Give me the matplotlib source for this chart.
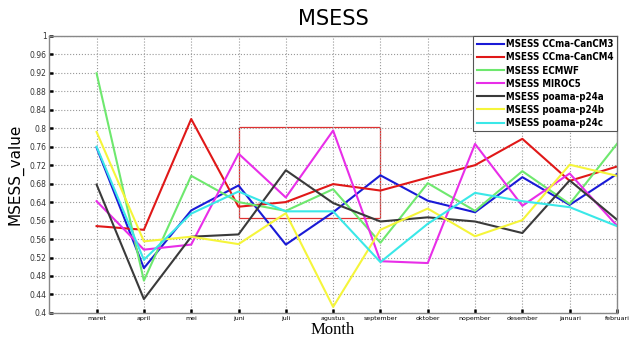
import numpy as np
import matplotlib.pyplot as plt
from matplotlib.patches import Rectangle

months = ["maret", "april", "mei", "juni", "juli", "agustus", "september",
          "oktober", "nopember", "desember", "januari", "februari"]

canCM3 = [0.758, 0.497, 0.622, 0.676, 0.548, 0.618, 0.698, 0.643, 0.618, 0.694, 0.634, 0.701]
canCM4 = [0.588, 0.580, 0.820, 0.630, 0.640, 0.679, 0.665, 0.693, 0.720, 0.777, 0.686, 0.717]
ecmwf = [0.919, 0.470, 0.697, 0.640, 0.621, 0.668, 0.552, 0.681, 0.621, 0.707, 0.636, 0.766]
miroc5 = [0.642, 0.537, 0.548, 0.745, 0.650, 0.795, 0.512, 0.508, 0.766, 0.632, 0.702, 0.589]
p24a = [0.678, 0.430, 0.565, 0.570, 0.709, 0.638, 0.598, 0.607, 0.598, 0.573, 0.687, 0.602]
p24b = [0.792, 0.555, 0.565, 0.549, 0.616, 0.413, 0.580, 0.626, 0.566, 0.601, 0.721, 0.697]
p24c = [0.760, 0.515, 0.615, 0.663, 0.620, 0.620, 0.510, 0.593, 0.660, 0.642, 0.629, 0.588]

ytick_vals = [0.4, 0.44, 0.48, 0.52, 0.56, 0.60, 0.64, 0.68, 0.72, 0.76, 0.8,
              0.84, 0.88, 0.92, 0.96, 1.0]
ytick_labels = ["0.4", "0.44", "0.48", "0.52", "0.56", "0.56", "0.64", "0.68",
                "0.72", "0.76", "0.8", "0.84", "0.88", "0.92", "0.96", "1"]

series = [
    ("MSESS CCma-CanCM3", canCM3, "#1a1ad6"),
    ("MSESS CCma-CanCM4", canCM4, "#e01818"),
    ("MSESS ECMWF", ecmwf, "#6ee86e"),
    ("MSESS MIROC5", miroc5, "#e82ee8"),
    ("MSESS poama-p24a", p24a, "#3a3a3a"),
    ("MSESS poama-p24b", p24b, "#f5f53a"),
    ("MSESS poama-p24c", p24c, "#3ae8e8"),
]

fig = plt.figure(figsize=(6.4, 3.45), dpi=100)
ax = fig.add_axes([0.077, 0.093, 0.887, 0.803])
x = np.arange(len(months))

for label, vals, col in series:
    ax.plot(x, vals, color=col, lw=1.5, label=label)

# highlight box (juni - september)
ax.add_patch(Rectangle((3, 0.606), 3, 0.196, fill=False, edgecolor="#e03030", lw=0.9))

ax.set_xlim(-1, 11)
ax.set_ylim(0.4, 1.0)
ax.set_xticks(x)
ax.set_xticklabels(months, fontsize=4.5)
ax.set_yticks(ytick_vals)
ax.set_yticklabels(ytick_labels, fontsize=5.5, color="#333333")
ax.tick_params(direction="in", length=3, width=1.8, color="black", pad=2)
ax.grid(True, linestyle=":", color="#999999", lw=0.8)
for s in ax.spines.values():
    s.set_color("#888888")
    s.set_linewidth(1.0)

ax.set_title("MSESS", fontsize=15, pad=8)
ax.set_ylabel("MSESS_value", fontsize=11)
ax.set_xlabel("Month", fontsize=12, family=["Liberation Serif", "DejaVu Serif"], labelpad=1)

leg = ax.legend(loc="upper right",
                prop={"family": ["Liberation Sans Narrow", "DejaVu Sans"],
                      "weight": "bold", "size": 7, "stretch": "condensed"},
                handlelength=2.8, handletextpad=0.2, labelspacing=0.32,
                borderaxespad=0.0, borderpad=0.35, fancybox=False, framealpha=1)
leg.get_frame().set_edgecolor("#555555")
leg.get_frame().set_linewidth(0.8)

fig.savefig("out.png", dpi=100)
